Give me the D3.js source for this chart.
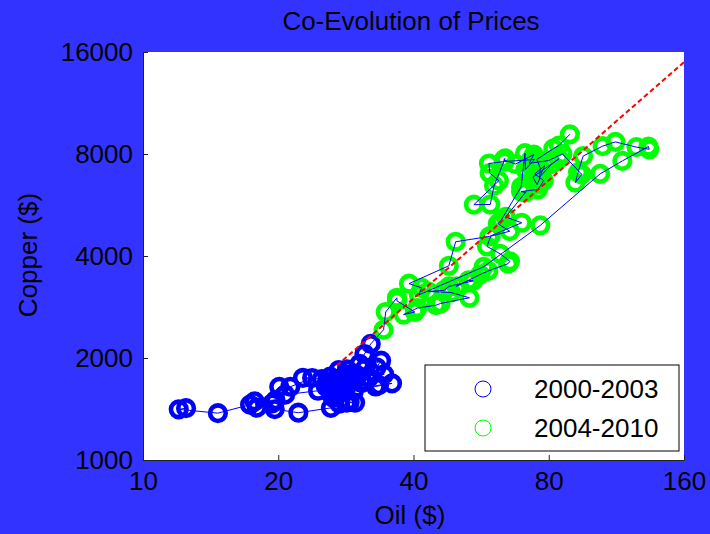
<!DOCTYPE html>
<html>
<head>
<meta charset="utf-8">
<script src="https://cdn.jsdelivr.net/npm/d3@7"></script>
<style>
  body { margin: 0; background: #3333ff; }
  text { font-family: "Liberation Sans", Arial, sans-serif; fill: #000; }
</style>
</head>
<body>
<div id="chart"></div>
<script>
// monthly prices, Jan 1999 - Dec 2003 (blue) and Jan 2004 - Dec 2010 (green)
var oilEarly = [
  12.47, 12.01, 14.68, 17.31, 17.72, 17.92, 20.10, 21.28, 23.80, 22.69, 25.00, 26.10,
  27.26, 29.37, 29.84, 25.72, 28.79, 31.82, 29.70, 31.26, 33.88, 33.11, 34.42, 28.44,
  29.59, 29.61, 27.25, 27.49, 28.63, 27.60, 26.43, 27.37, 26.20, 22.17, 19.64, 19.39,
  19.72, 20.72, 24.53, 26.18, 27.04, 25.52, 26.97, 28.39, 29.66, 28.84, 26.35, 29.46,
  32.95, 35.83, 33.51, 28.17, 28.11, 30.66, 30.76, 31.57, 28.31, 30.34, 31.11, 32.13
];
var copperEarly = [
  1422, 1411, 1375, 1456, 1490, 1427, 1644, 1645, 1746, 1747, 1733, 1762,
  1843, 1801, 1738, 1679, 1775, 1747, 1795, 1869, 1964, 1878, 1789, 1850,
  1775, 1762, 1737, 1667, 1690, 1592, 1530, 1466, 1425, 1379, 1412, 1469,
  1501, 1559, 1601, 1589, 1606, 1647, 1586, 1476, 1477, 1483, 1585, 1596,
  1648, 1683, 1663, 1589, 1646, 1686, 1711, 1762, 1790, 1921, 2055, 2201
];
var oilLate = [
  34.31, 34.69, 36.74, 36.75, 40.28, 38.03, 40.78, 44.90, 45.94, 53.28, 48.47, 43.15,
  46.84, 47.97, 54.31, 53.04, 49.83, 56.26, 58.70, 64.97, 65.57, 62.37, 58.30, 59.43,
  65.51, 61.63, 62.69, 69.44, 70.84, 70.95, 74.41, 73.04, 63.80, 58.89, 59.08, 61.96,
  54.51, 59.28, 60.44, 63.98, 63.46, 67.49, 74.12, 72.36, 79.92, 85.80, 94.77, 91.69,
  92.97, 95.39, 105.45, 112.58, 125.40, 133.88, 133.37, 116.67, 104.11, 76.61, 57.31, 41.12,
  41.71, 39.09, 47.94, 49.65, 59.03, 69.64, 64.15, 71.05, 69.41, 75.72, 77.99, 74.47,
  78.33, 76.39, 81.20, 84.29, 73.74, 75.34, 76.32, 76.60, 75.24, 81.89, 84.25, 89.15
];
var copperLate = [
  2423, 2734, 3012, 2949, 2734, 2686, 2807, 2864, 2897, 3011, 3121, 3143,
  3170, 3253, 3378, 3390, 3255, 3526, 3615, 3798, 3857, 4059, 4269, 4577,
  4734, 4982, 5102, 6399, 8046, 7196, 7711, 7695, 7602, 7500, 7029, 6675,
  5669, 5676, 6452, 7766, 7683, 7475, 7970, 7510, 7651, 8006, 6965, 6587,
  7061, 7888, 8439, 8685, 8383, 8260, 8414, 7634, 6990, 4926, 3717, 3072,
  3221, 3315, 3743, 4407, 4569, 5014, 5216, 6165, 6196, 6288, 6676, 6982,
  7386, 6848, 7463, 7745, 6838, 6499, 6735, 7284, 7709, 8292, 8470, 9147
];

// power-law fit (straight in log-log), endpoints
var fitOil = [27.0, 160];
var fitCopper = [1900, 14940];

var xTicks = [10, 20, 40, 80, 160];
var yTicks = [1000, 2000, 4000, 8000, 16000];
var legendLabels = ['2000-2003', '2004-2010'];

var width = 710, height = 534;
var plot = {left: 143, right: 684, top: 52, bottom: 460};

var svg = d3.select('#chart').append('svg')
  .attr('width', width)
  .attr('height', height);

svg.append('rect')
  .attr('width', width).attr('height', height)
  .attr('fill', '#3333ff');

var x = d3.scaleLog().base(2).domain([10, 160]).range([plot.left, plot.right]);
var y = d3.scaleLog().base(2).domain([1000, 16000]).range([plot.bottom, plot.top]);

svg.append('rect')
  .attr('x', plot.left).attr('y', plot.top)
  .attr('width', plot.right - plot.left)
  .attr('height', plot.bottom - plot.top)
  .attr('fill', '#fff');

// axes, ticks point inward
var xAxis = d3.axisBottom(x).tickValues(xTicks).tickFormat(d3.format('d'))
  .tickSizeInner(-5).tickSizeOuter(0).tickPadding(12);
var yAxis = d3.axisLeft(y).tickValues(yTicks).tickFormat(d3.format('d'))
  .tickSizeInner(-5).tickSizeOuter(0).tickPadding(10);

var gx = svg.append('g')
  .attr('transform', 'translate(0,' + plot.bottom + ')')
  .call(xAxis);
var gy = svg.append('g')
  .attr('transform', 'translate(' + plot.left + ',0)')
  .call(yAxis);

[gx, gy].forEach(function(g) {
  g.select('.domain').attr('stroke', '#222');
  g.selectAll('.tick line').attr('stroke', '#222');
  g.selectAll('.tick text')
    .style('font-size', '26px')
    .style('font-family', '"Liberation Sans", Arial, sans-serif')
    .attr('fill', '#000');
});
gx.selectAll('.tick text').attr('dy', '0.71em');

var early = oilEarly.map(function(o, i) { return {oil: o, copper: copperEarly[i]}; });
var late = oilLate.map(function(o, i) { return {oil: o, copper: copperLate[i]}; });
var all = early.concat(late);

var marks = svg.append('g');

// circles
marks.selectAll('circle.early')
  .data(early)
  .enter()
  .append('circle')
  .attr('cx', function(d) { return x(d.oil); })
  .attr('cy', function(d) { return y(d.copper); })
  .attr('r', 7.8)
  .attr('fill', 'none')
  .attr('stroke', '#0000ff')
  .attr('stroke-width', 4.6);

marks.selectAll('circle.late')
  .data(late)
  .enter()
  .append('circle')
  .attr('cx', function(d) { return x(d.oil); })
  .attr('cy', function(d) { return y(d.copper); })
  .attr('r', 7.8)
  .attr('fill', 'none')
  .attr('stroke', '#00ff00')
  .attr('stroke-width', 4.6);

// path through time
var line = d3.line()
  .x(function(d) { return x(d.oil); })
  .y(function(d) { return y(d.copper); });

marks.append('path')
  .datum(all)
  .attr('d', line)
  .attr('fill', 'none')
  .attr('stroke', '#0000ff')
  .attr('stroke-width', 1);

// fit line
marks.append('path')
  .datum(fitOil.map(function(o, i) { return {oil: o, copper: fitCopper[i]}; }))
  .attr('d', line)
  .attr('fill', 'none')
  .attr('stroke', '#ff0000')
  .attr('stroke-width', 2)
  .attr('stroke-dasharray', '5,3');

// titles
svg.append('text')
  .attr('x', 411).attr('y', 30)
  .attr('text-anchor', 'middle')
  .style('font-size', '26px')
  .text('Co-Evolution of Prices');

svg.append('text')
  .attr('x', 410).attr('y', 524)
  .attr('text-anchor', 'middle')
  .style('font-size', '26px')
  .text('Oil ($)');

svg.append('text')
  .attr('transform', 'translate(37,255) rotate(-90)')
  .attr('text-anchor', 'middle')
  .style('font-size', '26px')
  .text('Copper ($)');

// legend
var legend = svg.append('g');
legend.append('rect')
  .attr('x', 425).attr('y', 365)
  .attr('width', 254).attr('height', 86)
  .attr('fill', '#fff')
  .attr('stroke', '#000')
  .attr('stroke-width', 1);

var legendColors = ['#0000ff', '#00ff00'];
legendLabels.forEach(function(lab, i) {
  var cy = 389 + i * 39;
  legend.append('circle')
    .attr('cx', 483).attr('cy', cy).attr('r', 8)
    .attr('fill', 'none')
    .attr('stroke', legendColors[i])
    .attr('stroke-width', 1);
  legend.append('text')
    .attr('x', 534).attr('y', cy + 9)
    .style('font-size', '26px')
    .text(lab);
});
</script>
</body>
</html>
